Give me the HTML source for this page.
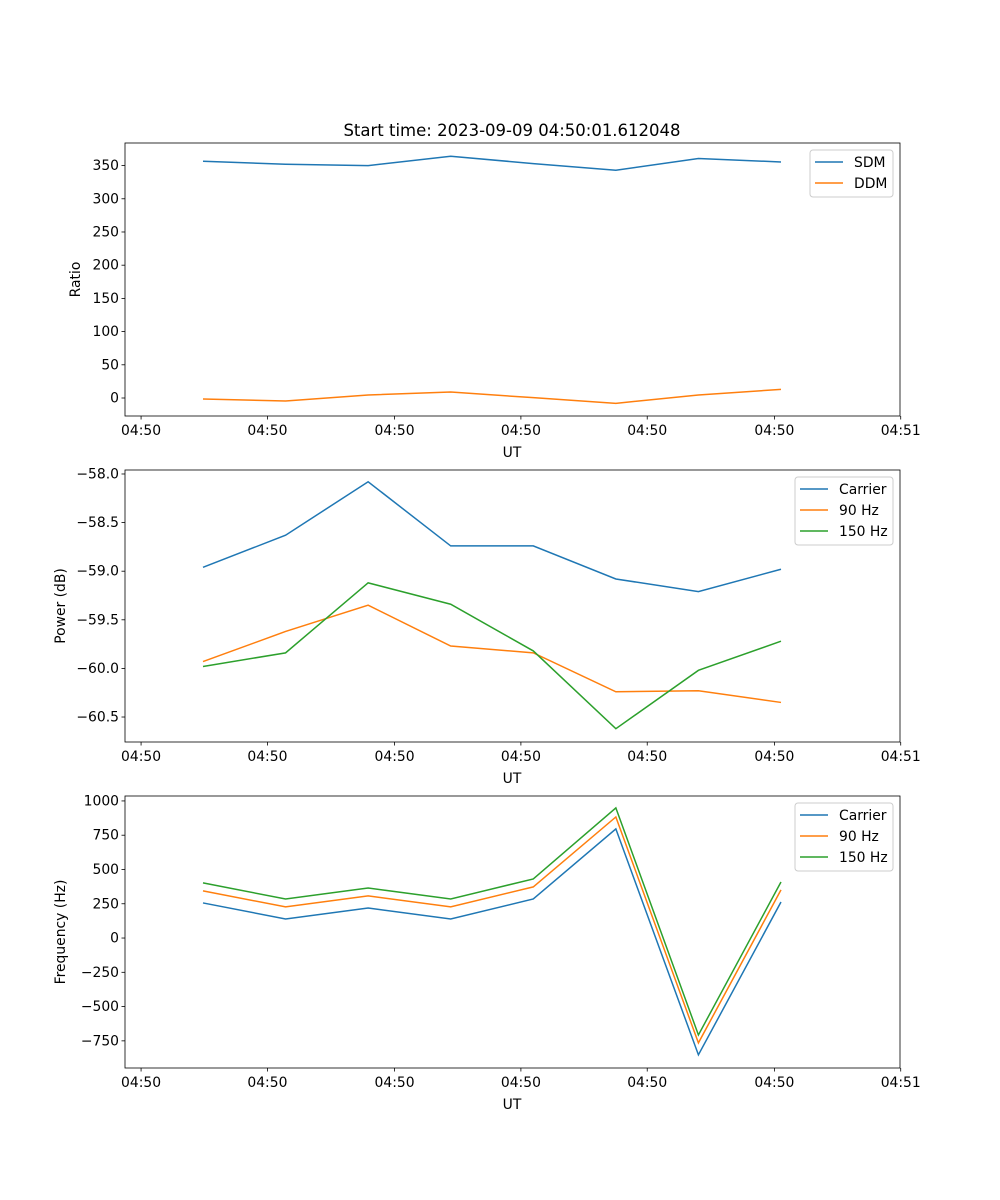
<!DOCTYPE html>
<html><head><meta charset="utf-8"><style>
html,body{margin:0;padding:0;background:#fff}
svg{display:block;font-family:"DejaVu Sans","Liberation Sans",sans-serif}
</style></head><body>
<svg id="fig" width="1000" height="1200" viewBox="0 0 1000 1200" xmlns="http://www.w3.org/2000/svg">
<text x="512" y="136" font-size="16.5" text-anchor="middle">Start time: 2023-09-09 04:50:01.612048</text>
</svg>
<script>
const xTickLabels = ["04:50","04:50","04:50","04:50","04:50","04:50","04:51"];
const sdm = [356.6,352,350,364,353,343,360.7,355.4];
const ddm = [-1.5,-4.5,4.5,9,0.5,-8,4.5,13];
const powCarrier = [-58.96,-58.63,-58.08,-58.74,-58.74,-59.08,-59.21,-58.98];
const pow90 = [-59.93,-59.62,-59.35,-59.77,-59.84,-60.24,-60.23,-60.35];
const pow150 = [-59.98,-59.84,-59.12,-59.34,-59.82,-60.62,-60.02,-59.72];
const freqCarrier = [256,139,219,139,285,796,-852,263];
const freq90 = [344,227,307,227,373,883,-765,351];
const freq150 = [402,285,365,285,431,949,-707,409];
const ratioTicks = [0,50,100,150,200,250,300,350];
const powerTicks = [-58.0,-58.5,-59.0,-59.5,-60.0,-60.5];
const freqTicks = [1000,750,500,250,0,-250,-500,-750];

const NS="http://www.w3.org/2000/svg";
const svg=document.getElementById('fig');
function mk(tag,attrs,parent){const e=document.createElementNS(NS,tag);for(const k in attrs)e.setAttribute(k,attrs[k]);(parent||svg).appendChild(e);return e;}
const L=125,R=900;
// x: sample index -> px ; ticks at fractional index
function xs(i){return 203+i*82.57;}
const xTickPos=[-0.75,0.78,2.32,3.85,5.38,6.92,8.45];
const C=["#1f77b4","#ff7f0e","#2ca02c"];

function panel(name,top,bot,ymin,ymax,ticks,fmt,ylabel,series,names,legendX){
  const g=mk('g',{});
  
  
  const ys=v=>bot-(v-ymin)/(ymax-ymin)*(bot-top);
  series.forEach((s,k)=>{
    const p=mk('polyline',{points:s.map((v,i)=>xs(i)+','+ys(v)).join(' '),fill:'none',stroke:C[k],'stroke-width':1.5},g);
    
    
  });
  const fr=mk('rect',{x:L,y:top,width:R-L,height:bot-top,fill:'none',stroke:'#000','stroke-width':0.8},g);
  
  
  ticks.forEach(t=>{const y=ys(t);mk('line',{x1:L-3.5,x2:L,y1:y,y2:y,stroke:'#000','stroke-width':0.8},g);
    const tx=mk('text',{x:L-6,y:y+4.5,'font-size':13.9,'text-anchor':'end'},g);tx.textContent=fmt(t);
    
    });
  xTickPos.forEach((p,i)=>{const x=xs(p);mk('line',{x1:x,x2:x,y1:bot,y2:bot+3.5,stroke:'#000','stroke-width':0.8},g);
    const tx=mk('text',{x:x,y:bot+19,'font-size':13.9,'text-anchor':'middle'},g);tx.textContent=xTickLabels[i];
    
    });
  const xl=mk('text',{x:512,y:bot+41,'font-size':13.9,'text-anchor':'middle'},g);xl.textContent='UT';
  
  
  const yl=mk('text',{x:0,y:0,'font-size':13.9,'text-anchor':'middle',transform:`translate(${name==='ratio-panel'?80:65},${(top+bot)/2}) rotate(-90)`},g);yl.textContent=ylabel;
  
  
  const lg=mk('g',{},g);
  
  
  mk('rect',{x:legendX,y:top+7,width:893-legendX,height:names.length*21+5,fill:'#fff',stroke:'#ccc',rx:3},lg);
  names.forEach((n,k)=>{const y=top+19+k*21;
    mk('line',{x1:legendX+5,x2:legendX+33,y1:y,y2:y,stroke:C[k],'stroke-width':1.5},lg);
    const t=mk('text',{x:legendX+44,y:y+5,'font-size':13.9},lg);t.textContent=n;
    
    });
}
panel('ratio-panel',143,416,-27.1,384,ratioTicks,t=>String(t),'Ratio',[sdm,ddm],['SDM','DDM'],810);
panel('power-panel',470,742,-60.757,-57.959,powerTicks,t=>'\u2212'+Math.abs(t).toFixed(1),'Power (dB)',[powCarrier,pow90,pow150],['Carrier','90 Hz','150 Hz'],795);
panel('frequency-panel',796,1068,-948,1036,freqTicks,t=>(t<0?'\u2212':'')+Math.abs(t),'Frequency (Hz)',[freqCarrier,freq90,freq150],['Carrier','90 Hz','150 Hz'],795);
</script>
</body></html>
